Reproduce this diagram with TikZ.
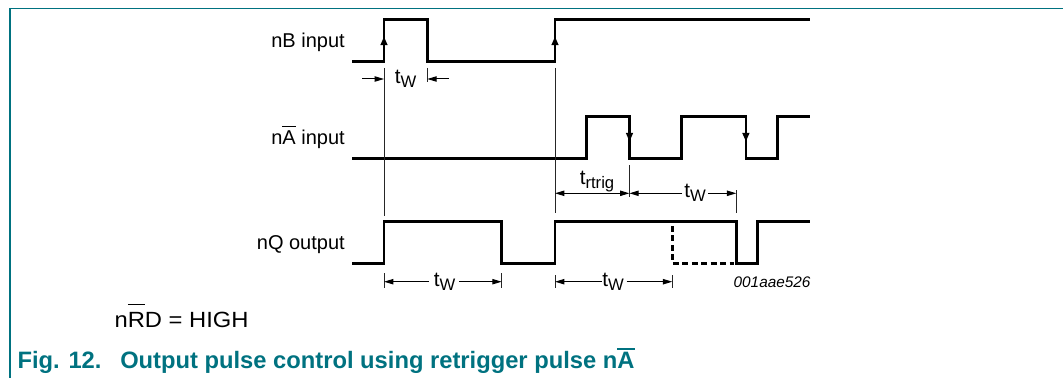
\documentclass[tikz,border=0pt]{standalone}
\usepackage{fontspec}
\setmainfont{Liberation Sans}
\usepackage{graphicx}
\usetikzlibrary{arrows.meta}
\definecolor{nxpteal}{RGB}{0,114,128}
\newcommand\ovl[2][0.86em]{\setbox0\hbox{#2}\rlap{\raisebox{#1}{\rule{\wd0}{0.065em}}}\box0\relax}
\newcommand\tsb[1]{t\raisebox{-3pt}{\fontsize{12.5}{13}\selectfont #1}}
\begin{document}
\begin{tikzpicture}[x=0.75pt,y=-0.75pt,
  wave/.style={line width=2pt, line join=miter},
  thinl/.style={line width=0.7pt, black!85},
  dim/.style={line width=0.75pt,-{Triangle[length=7pt,width=4pt]}},
  dimboth/.style={line width=0.75pt,{Triangle[length=7pt,width=4pt]}-{Triangle[length=7pt,width=4pt]}},
  edgearr/.style={line width=2pt,-{Triangle[length=6.5pt,width=5pt]}},
  lbl/.style={font=\fontsize{15}{18}\selectfont, inner sep=0pt, anchor=base east},
  tlab/.style={font=\fontsize{15.5}{18}\selectfont, inner sep=0pt, anchor=base},
  captxt/.style={font=\fontsize{17.8}{21}\selectfont\bfseries, text=nxpteal, inner sep=0pt, anchor=base west}
]
\useasboundingbox (0,0) rectangle (1063,378);
% frame
\draw[nxpteal,line width=1.1pt] (10,378) -- (10,8.3) -- (1063,8.3);

% signal labels
\node[lbl] (nb) at (345,47.2) {nB input};
\node[lbl] (na) at (345,144) {n\ovl{A} input};
\node[lbl] (nq) at (345,249) {nQ output};

% waveforms
\draw[wave] (352,61.7) -- (384,61.7) -- (384,19.5) -- (427.3,19.5) -- (427.3,61.7)
  -- (555,61.7) -- (555,19.5) -- (810,19.5);
\draw[wave] (352,158.5) -- (586.6,158.5) -- (586.6,116.5) -- (629.5,116.5) -- (629.5,158.5)
  -- (681.8,158.5) -- (681.8,116.5) -- (745.9,116.5) -- (745.9,158.5)
  -- (777.6,158.5) -- (777.6,116.5) -- (810,116.5);
\draw[wave] (352,263.3) -- (384,263.3) -- (384,221.7) -- (501.7,221.7) -- (501.7,263.3)
  -- (555,263.3) -- (555,221.7) -- (736.5,221.7) -- (736.5,263.3)
  -- (757.3,263.3) -- (757.3,221.7) -- (810,221.7);
\draw[wave,dash pattern=on 4.5pt off 2.6pt] (672.3,226) -- (672.3,263.3) -- (734,263.3);

% edge arrows
\draw[edgearr] (384,50) -- (384,36.5);
\draw[edgearr] (555,50) -- (555,36.5);
\draw[edgearr] (629.5,128) -- (629.5,141.6);
\draw[edgearr] (745.9,128) -- (745.9,141.6);

% reference lines and ticks
\draw[thinl] (384,68) -- (384,216);
\draw[thinl] (555,68) -- (555,213);
\draw[thinl] (427.3,68) -- (427.3,82);
\draw[thinl] (629.4,165) -- (629.4,197);
\draw[thinl] (736.3,190) -- (736.3,213);
\draw[thinl] (384,273) -- (384,288);
\draw[thinl] (501.7,273) -- (501.7,288);
\draw[thinl] (555,275) -- (555,288);
\draw[thinl] (672.3,275) -- (672.3,288);

% timing labels
\node[tlab] (tw1) at (405.5,83.5) {\tsb{W}};
\draw[dim] (362,79) -- (384,79);
\draw[dim] (449,79) -- (427.3,79);

\node[tlab] (trt) at (597,184) {\tsb{rtrig}};
\draw[dimboth] (555,193.3) -- (629.4,193.3);

\node[tlab] (tw2) at (695,197.8) {\tsb{W}};
\draw[dim] (682,193.3) -- (629.4,193.3);
\draw[dim] (708,193.3) -- (736.3,193.3);

\node[tlab] (tw3) at (444.5,286.2) {\tsb{W}};
\draw[dim] (429,281.7) -- (384,281.7);
\draw[dim] (459,281.7) -- (501.7,281.7);

\node[tlab] (tw4) at (613,286.2) {\tsb{W}};
\draw[dim] (601.5,281.7) -- (555,281.7);
\draw[dim] (626.5,281.7) -- (672.3,281.7);

% id
\node[font=\fontsize{11.5}{13}\selectfont\itshape, anchor=base east, inner sep=0pt] (id) at (810.7,287) {001aae526};

% condition
\node[anchor=base west, inner sep=0pt, font=\fontsize{16.5}{19}\selectfont] (rd) at (114.3,327.3)
  {\scalebox{1.08}[1]{n\ovl[1.0em]{R}D = HIGH}};

% caption
\node[captxt] (fig) at (17.3,368.3) {Fig. 12.};
\node[captxt] (cap) at (120,368.3) {Output pulse control using retrigger pulse n\ovl[0.78em]{A}};
\end{tikzpicture}
\end{document}
